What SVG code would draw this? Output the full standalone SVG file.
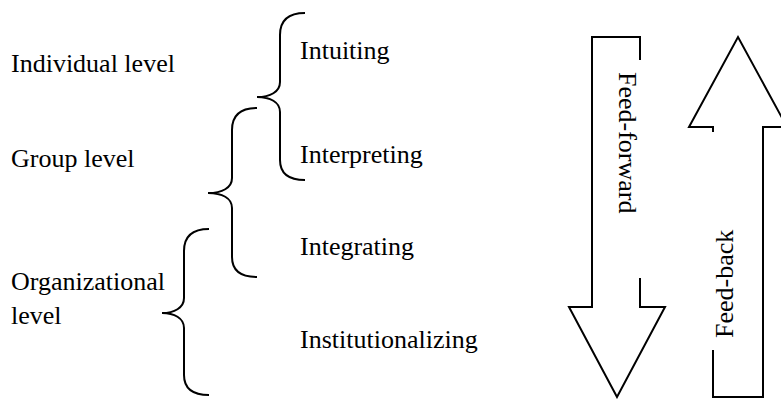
<svg xmlns="http://www.w3.org/2000/svg" width="781" height="399" viewBox="0 0 781 399">
<style>
text{font-family:"Liberation Serif","Times New Roman",serif;font-size:26px;fill:#000}
.br{fill:none;stroke:#000;stroke-width:2}
.ar{fill:none;stroke:#000;stroke-width:2;stroke-linejoin:miter}
</style>
<rect width="781" height="399" fill="#fff"/>
<g id="labels-levels">
<text x="11" y="72">Individual level</text>
<text x="11" y="167">Group level</text>
<text x="11" y="290">Organizational</text>
<text x="11" y="324">level</text>
</g>
<g id="labels-processes">
<text x="300" y="59">Intuiting</text>
<text x="300" y="163">Interpreting</text>
<text x="300" y="255">Integrating</text>
<text x="300" y="348">Institutionalizing</text>
</g>
<g id="braces">
<path id="brace-individual" class="br" d="M305,13 C288,13 280,20 280,35 L280,82 C280,92 270,97 257,97 C270,97 280,102 280,112 L280,160 C280,173 288,180 305,180"/>
<path id="brace-group" class="br" d="M257,108 C240,108 232,115 232,130 L232,178 C232,188 222,193 208,193 C222,193 232,198 232,208 L232,257 C232,270 240,277 257,277"/>
<path id="brace-org" class="br" d="M209,229 C192,229 184,236 184,251 L184,298 C184,308 174,313 162,313 C174,313 184,318 184,328 L184,375 C184,388 192,395 209,395"/>
</g>
<g id="feed-forward">
<path class="ar" d="M640,60 L640,37 L592,37 L592,307 L569,307 L617,397 L665,307 L640,307 L640,278"/>
<text transform="translate(619,72) rotate(90)">Feed-forward</text>
</g>
<g id="feed-back">
<path class="ar" d="M713,132 L713,127 L689,127 L738,37 L787,127 L763,127 L763,397 L713,397 L713,350"/>
<text transform="translate(733,338) rotate(-90)">Feed-back</text>
</g>
</svg>
